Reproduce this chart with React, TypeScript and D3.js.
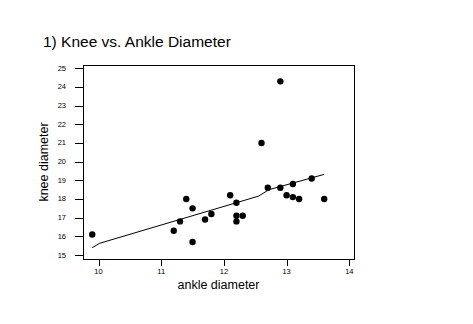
import React from "react";
import * as d3 from "d3";

const ankle = [9.9, 11.2, 11.3, 11.4, 11.5, 11.5, 11.7, 11.8, 12.1, 12.2, 12.2, 12.2, 12.3, 12.6, 12.7, 12.9, 12.9, 13.0, 13.1, 13.1, 13.2, 13.4, 13.6];
const knee = [16.1, 16.3, 16.8, 18.0, 17.5, 15.7, 16.9, 17.2, 18.2, 17.8, 17.1, 16.8, 17.1, 21.0, 18.6, 24.3, 18.6, 18.2, 18.8, 18.1, 18.0, 19.1, 18.0];
const fitX = [9.9, 10.02, 12.55, 12.72, 13.6];
const fitY = [15.39, 15.63, 18.15, 18.5, 19.32];
const xTicks = [10, 11, 12, 13, 14];
const yTicks = [15, 16, 17, 18, 19, 20, 21, 22, 23, 24, 25];

const W = 473, H = 324;
const frame = { left: 83, right: 354, top: 65, bottom: 259 };

export default function App() {
  const x = d3.scaleLinear().domain([10, 14]).range([98.5, 349.3]);
  const y = d3.scaleLinear().domain([15, 25]).range([255, 68.3]);
  const line = d3.line<number>().x((_, i) => x(fitX[i])).y((_, i) => y(fitY[i]));
  const font = "'Liberation Sans', Arial, sans-serif";
  return (
    <svg width={W} height={H} style={{ position: "absolute", left: 0, top: 0, background: "#fff" }} fontFamily={font}>
      <rect x={0} y={0} width={W} height={H} fill="#fff" />
      <text x={43} y={47} fontSize={15.5} fill="#000">1) Knee vs. Ankle Diameter</text>
      <rect x={frame.left + 0.5} y={frame.top + 0.5} width={frame.right - frame.left} height={frame.bottom - frame.top} fill="none" stroke="#000" strokeWidth={1} />
      {yTicks.map(t => (
        <g key={"y" + t}>
          <line x1={75} x2={frame.left} y1={Math.round(y(t)) + 0.5} y2={Math.round(y(t)) + 0.5} stroke="#000" />
          <text x={66} y={y(t) + 2.5} fontSize={7.5} textAnchor="end">{t}</text>
        </g>
      ))}
      {xTicks.map(t => (
        <g key={"x" + t}>
          <line x1={Math.round(x(t)) + 0.5} x2={Math.round(x(t)) + 0.5} y1={frame.bottom} y2={266} stroke="#000" />
          <text x={x(t)} y={274} fontSize={7.5} textAnchor="middle">{t}</text>
        </g>
      ))}
      <path d={line(fitX) || ""} fill="none" stroke="#000" strokeWidth={1} />
      {ankle.map((a, i) => (
        <circle key={i} cx={x(a)} cy={y(knee[i])} r={3.2} fill="#000" />
      ))}
      <text x={(frame.left + frame.right) / 2} y={289} fontSize={12.5} textAnchor="middle">ankle diameter</text>
      <text transform={`translate(48,${(frame.top + frame.bottom) / 2}) rotate(-90)`} fontSize={12.5} textAnchor="middle">knee diameter</text>
    </svg>
  );
}
